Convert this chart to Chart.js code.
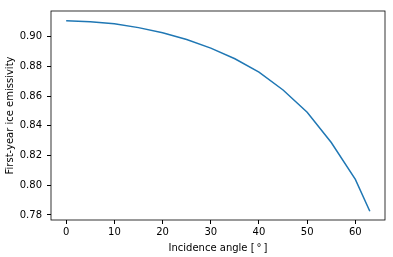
<!DOCTYPE html>
<html>
<head>
<meta charset="utf-8">
<script src="https://cdn.jsdelivr.net/npm/chart.js@4"></script>
<style>
  html, body { margin: 0; padding: 0; background: #fff; }
  #wrap { width: 393px; height: 257px; }
</style>
</head>
<body>
<div id="wrap"><canvas id="chart" width="393" height="257"></canvas></div>
<script>
const angles = [0, 5, 10, 15, 20, 25, 30, 35, 40, 45, 50, 55, 60, 63]
const emissivity = [0.9108, 0.9102, 0.9088, 0.9062, 0.9028, 0.8982, 0.8924, 0.8852, 0.8762, 0.8642, 0.8492, 0.8288, 0.8040, 0.7825]
const xTicks = [0, 10, 20, 30, 40, 50, 60]
const yTicks = [0.78, 0.80, 0.82, 0.84, 0.86, 0.88, 0.90]

const font = { family: "DejaVu Sans", size: 10 }

// matplotlib-style box around the axes
const frame = {
  id: 'frame',
  afterDraw(chart) {
    const a = chart.chartArea
    const c = chart.ctx
    c.save()
    c.strokeStyle = '#000'
    c.lineWidth = 0.8
    c.strokeRect(a.left, a.top, a.right - a.left, a.bottom - a.top)
    c.restore()
  }
}

new Chart(document.getElementById('chart'), {
  type: 'scatter',
  data: {
    datasets: [{
      data: angles.map((a, i) => ({ x: a, y: emissivity[i] })),
      showLine: true,
      borderColor: '#1f77b4',
      borderWidth: 1.5,
      pointRadius: 0,
      tension: 0,
      fill: false
    }]
  },
  options: {
    responsive: false,
    animation: false,
    layout: { padding: { top: 4, right: 8, left: 0, bottom: 0 } },
    plugins: { legend: { display: false }, tooltip: { enabled: false } },
    scales: {
      x: {
        type: 'linear',
        min: -3.15,
        max: 66.15,
        afterBuildTicks: (s) => { s.ticks = xTicks.map(v => ({ value: v })) },
        afterFit: (s) => { s.height = 37 },
        ticks: { color: '#000', font: font, padding: 2, maxRotation: 0 },
        grid: { drawOnChartArea: false, drawTicks: true, tickLength: 4, color: '#000' },
        border: { display: false },
        title: { display: true, text: 'Incidence angle [\u2009°\u2009]', color: '#000', font: font, padding: { top: 1, bottom: 3 } }
      },
      y: {
        type: 'linear',
        min: 0.7766,
        max: 0.9174,
        afterBuildTicks: (s) => { s.ticks = yTicks.map(v => ({ value: v })) },
        afterFit: (s) => { s.width = 51 },
        ticks: { color: '#000', font: font, padding: 5, callback: (v) => v.toFixed(2) },
        grid: { drawOnChartArea: false, drawTicks: true, tickLength: 4, color: '#000' },
        border: { display: false },
        title: { display: true, text: 'First-year ice emissivity', color: '#000', font: font, padding: { top: 4, bottom: 2 } }
      }
    }
  },
  plugins: [frame]
})
</script>
</body>
</html>
